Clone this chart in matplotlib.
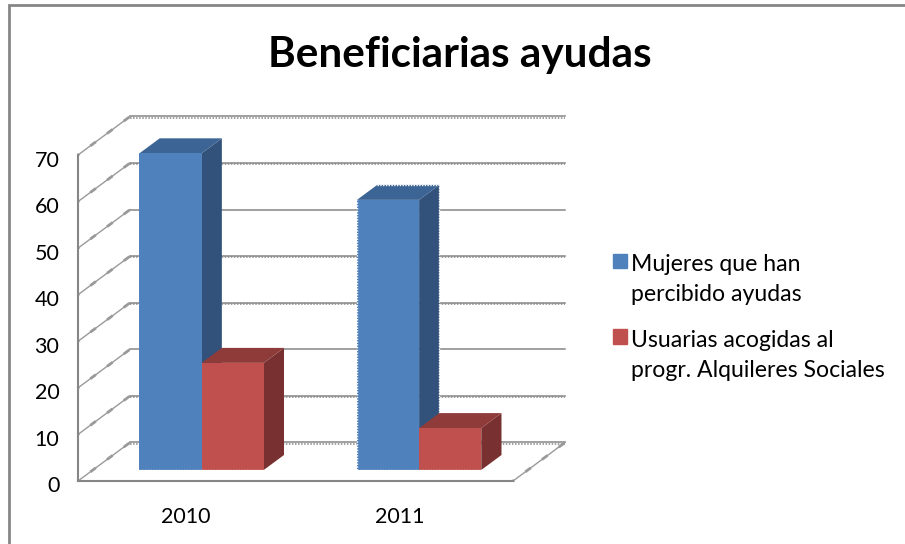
import matplotlib
matplotlib.use('Agg')
import matplotlib.pyplot as plt
from matplotlib.legend_handler import HandlerPatch
from matplotlib.lines import Line2D
from matplotlib.patches import Patch, Rectangle
from matplotlib.transforms import ScaledTranslation

plt.rcParams['font.family'] = ['Lato', 'DejaVu Sans']

years = ['2010', '2011']
mujeres = [68, 58]
usuarias = [23, 9]
y_ticks = [0, 10, 20, 30, 40, 50, 60, 70]
title = 'Beneficiarias ayudas'
label_mujeres = 'Mujeres que han\npercibido ayudas'
label_usuarias = 'Usuarias acogidas al\nprogr. Alquileres Sociales'

GREY = '#868686'
# wall depth in data units, bars sit between d0 and d1 of it
DX = 52 / 217.5
DY = 38.5 / 4.657
d0, d1 = 0.286, 0.675
BAR_W = 1 / 3.5
GAP = 0.75 / 3.5

fig = plt.figure(figsize=(9.05, 5.44), dpi=100, facecolor='white')
ax = fig.add_axes([78 / 905, (544 - 481) / 544, 435 / 905, 326 / 544])
ax.set_xlim(0, 2)
ax.set_ylim(0, 70)
ax.patch.set_alpha(0)

# outer frame
fig.add_artist(Line2D([8.5 / 905, 8.5 / 905, 1], [0, 1 - 5.2 / 544, 1 - 5.2 / 544], color=GREY, lw=2.0,
                      solid_joinstyle='miter', transform=fig.transFigure))

# walls
serrated = [70, 60, 40, 30, 10, 0]
for v in y_ticks:
    ax.plot([DX, 2 + DX], [v + DY, v + DY], color=GREY, lw=1.1, clip_on=False, zorder=1)
    if v in serrated:
        ax.plot([DX, 2 + DX], [v + DY - 0.25, v + DY - 0.25], color=GREY, lw=1.1, ls=(0, (1, 1)), clip_on=False, zorder=1)
    ax.plot([0, DX], [v, v + DY], color='#9a9a9a', lw=1.0, clip_on=False, zorder=1)
    ax.plot([0, DX], [v, v + DY], color='#9a9a9a', lw=2.0, ls=(2, (2.5, 5)), clip_on=False, zorder=1)
ax.plot([2, 2 + DX], [0, DY], color='#9a9a9a', lw=1.0, clip_on=False, zorder=1)
ax.plot([2, 2 + DX], [0, DY], color='#9a9a9a', lw=2.0, ls=(2, (2.5, 5)), clip_on=False, zorder=1)


def draw_bars(values, offset, front, top, side, z):
    for i, val in enumerate(values):
        x0 = i + GAP + offset + d0 * DX
        x1 = x0 + BAR_W
        y0 = d0 * DY
        y1 = y0 + val
        dx = (d1 - d0) * DX
        dy = (d1 - d0) * DY
        ax.fill([x1, x1 + dx, x1 + dx, x1], [y0, y0 + dy, y1 + dy, y1], color=side, lw=0, clip_on=False, zorder=z)
        ax.fill([x0, x0 + dx, x1 + dx, x1], [y1, y1 + dy, y1 + dy, y1], color=top, lw=0, clip_on=False, zorder=z)
        ax.bar(x0, val, BAR_W, bottom=y0, align='edge', color=front, lw=0, clip_on=False, zorder=z)
        # jagged lower edge from the scaled bitmap
        ax.plot([x0, x1], [y0, y0], color='white', lw=1.0, ls=(0, (1, 1)), clip_on=False, zorder=z + 0.5)
        if i == 1 and offset == 0:
            ax.plot([x0, x0], [y0, y1], color='white', lw=1.0, ls=(0, (1, 1)), clip_on=False, zorder=z + 0.5)
            ax.plot([x1 + dx, x1 + dx], [y0 + dy, y1 + dy], color='white', lw=1.0, ls=(0, (1, 1)),
                    clip_on=False, zorder=z + 0.5)
            ax.plot([x0 + dx, x1 + dx], [y1 + dy, y1 + dy], color='white', lw=1.0, ls=(0, (1, 1)),
                    clip_on=False, zorder=z + 0.5)


draw_bars(mujeres, 0, '#4F81BD', '#3C6595', '#32527B', 3)
draw_bars(usuarias, BAR_W, '#C0504D', '#8F3B39', '#783130', 4)

for name in ['top', 'right']:
    ax.spines[name].set_visible(False)
for name in ['left', 'bottom']:
    ax.spines[name].set_color(GREY)
    ax.spines[name].set_linewidth(1.5)
    ax.spines[name].set_zorder(2)

ax.set_yticks(y_ticks)
ax.set_xticks([0.495, 1.48])
ax.set_xticklabels(years)
ax.tick_params(axis='y', length=0, pad=13.5, labelsize=15.5, labelcolor='black')
ax.tick_params(axis='x', length=0, pad=19, labelsize=15.5, labelcolor='black')
# labels sit a little lower than their gridlines in the original
for lab in ax.get_yticklabels():
    lab.set_transform(lab.get_transform() + ScaledTranslation(0, -3.5 / 100, fig.dpi_scale_trans))

fig.text(460 / 905, 1 - 55 / 544, title, ha='center', va='center', fontsize=30.4, fontweight='bold')


def first_line_patch(legend, orig_handle, xdescent, ydescent, width, height, fontsize):
    # the key sits beside the first text line, as in the original
    return Rectangle((-xdescent, -ydescent + 0.82 * fontsize), width, height)


handles = [Patch(color='#4F81BD'), Patch(color='#C0504D')]
leg = fig.legend(handles, [label_mujeres, label_usuarias], loc='upper left', bbox_to_anchor=(604 / 905, 1 - 245 / 544),
                 frameon=False, fontsize=16.6, handlelength=0.6, handleheight=0.6, handletextpad=0.15,
                 labelspacing=1.1, borderpad=0.4, borderaxespad=0,
                 handler_map={Patch: HandlerPatch(patch_func=first_line_patch)})
for t in leg.get_texts():
    t.set_linespacing(1.5)

fig.savefig('out.png', dpi=100)
